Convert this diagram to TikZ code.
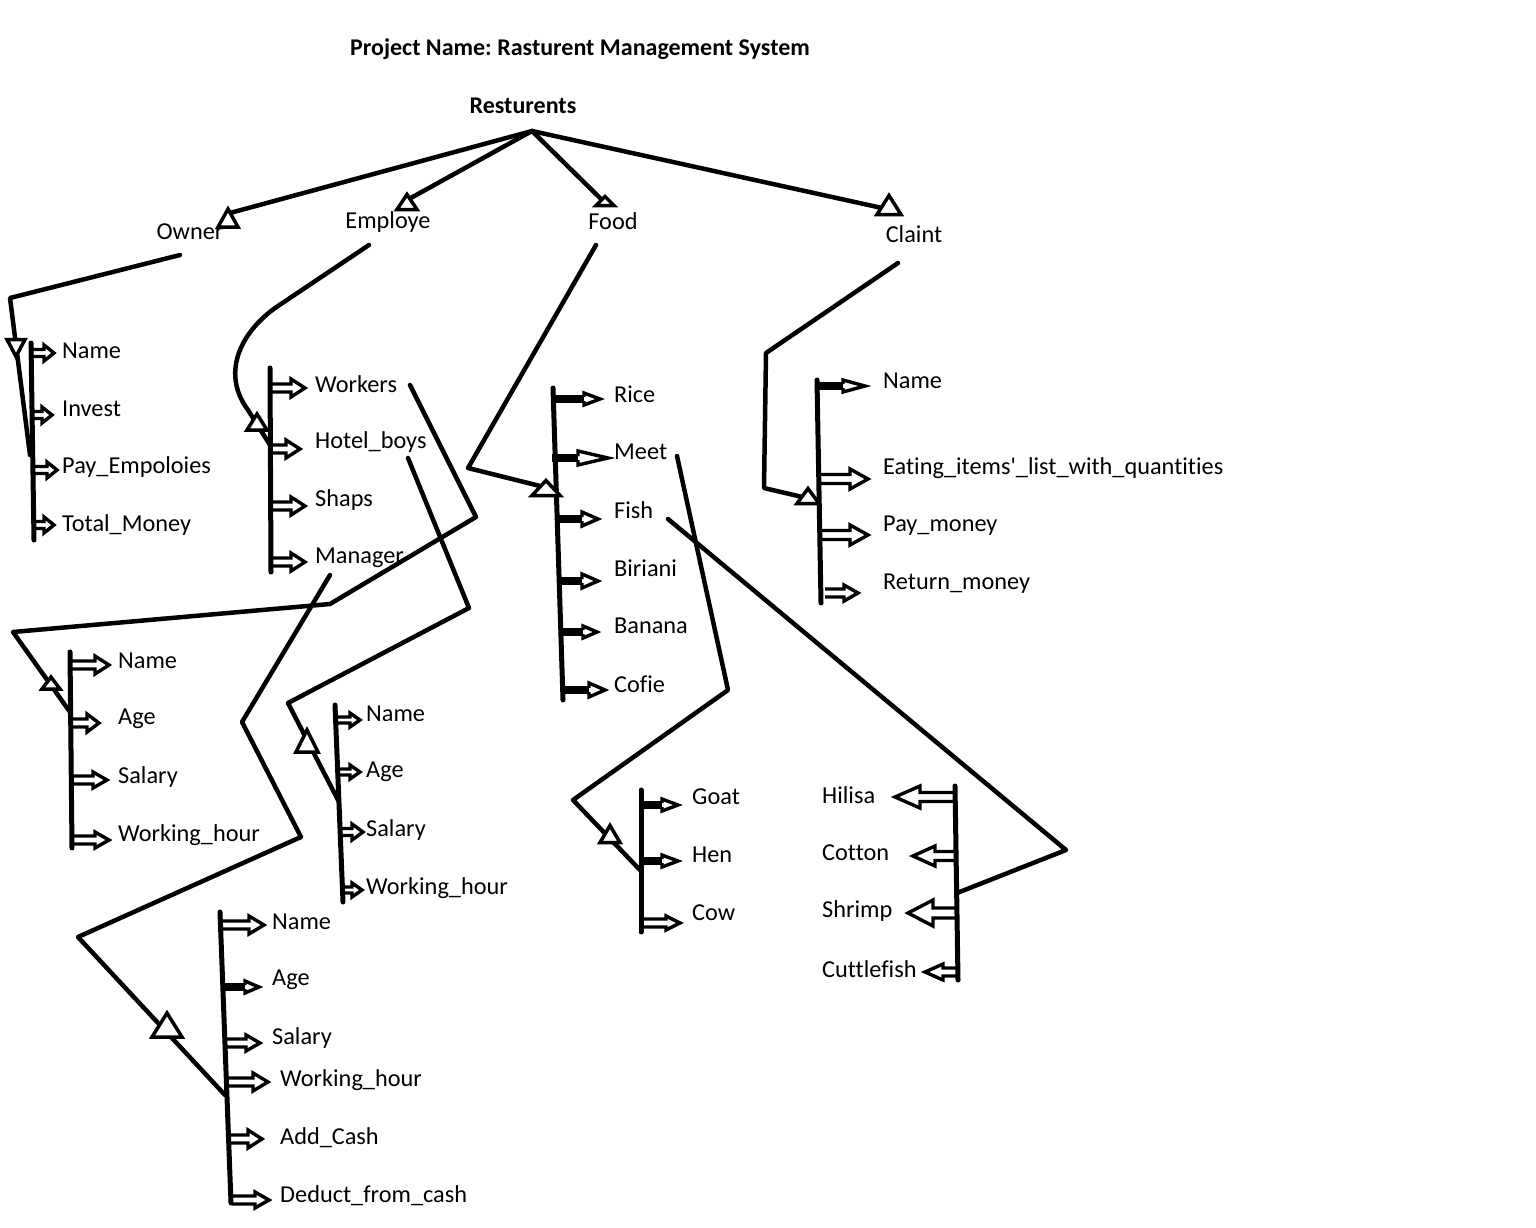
\documentclass[tikz,border=0pt]{standalone}
\usepackage{fontspec}
\setmainfont[Ligatures={NoCommon,NoContextual}]{Carlito}
\frenchspacing
\tikzset{
  lbl/.style={font=\fontsize{24.3}{28}\selectfont, anchor=west, inner sep=0pt},
  ttl/.style={font=\fontsize{24}{28}\selectfont\bfseries, inner sep=0pt},
  br/.style={line width=4.5pt, line join=round, line cap=round},
  barline/.style={line width=5pt, line cap=round},
  ao/.style={line width=3.4pt, line join=miter, fill=white},
  trishape/.style={line width=3.5pt, fill=white, line join=miter},
}
% hollow block arrow to the right: x y len shaft head headlen
\newcommand{\rblk}[6]{\draw[ao, shift={(#1,#2)}] (0,-#4) -- (#3-#6,-#4) -- (#3-#6,-#5) -- (#3,0) -- (#3-#6,#5) -- (#3-#6,#4) -- (0,#4);}
% hollow block arrow to the left
\newcommand{\lblk}[6]{\draw[ao, shift={(#1,#2)}, xscale=-1] (0,-#4) -- (#3-#6,-#4) -- (#3-#6,-#5) -- (#3,0) -- (#3-#6,#5) -- (#3-#6,#4) -- (0,#4);}
% solid shaft arrow to the right: x y len head headlen
\newcommand{\sblk}[5]{\draw[line width=8pt, shift={(#1,#2)}] (0,0) -- (#3-#5+2,0);
  \draw[ao, shift={(#1,#2)}] (#3-#5,-2) -- (#3-#5,-#4) -- (#3,0) -- (#3-#5,#4) -- (#3-#5,2);}
% triangle: cx cy w h (h<0 inverted)
\newcommand{\trig}[4]{\draw[trishape] (#1,#2-#4/2) -- (#1+#3/2,#2+#4/2) -- (#1-#3/2,#2+#4/2) -- cycle;}
\begin{document}
\begin{tikzpicture}[x=1pt,y=-1pt]
\useasboundingbox[fill=white] (0,0) rectangle (1536,1228);

% titles
\node[ttl] (title) at (580,49) {Project Name: Rasturent Management System};
\node[ttl] (root) at (523,106) {Resturents};
\coordinate (r) at (532,131);

% main categories
\node[lbl, anchor=center] (owner) at (190,232) {Owner};
\node[lbl, anchor=center] (employe) at (388,222) {Employe};
\node[lbl, anchor=center] (food) at (613,221) {Food};
\node[lbl, anchor=center] (claint) at (914,234) {Claint};

\draw[br] (r) -- (230,213);
\draw[br] (r) -- (409,199);
\draw[br] (r) -- (601,199);
\draw[br] (r) -- (882,208);
\trig{228}{218}{20}{18}
\trig{407}{202}{20}{15}
\trig{605}{201}{18}{9}
\trig{889}{205}{24}{19}

% ---------- Owner branch ----------
\draw[br] (180,255) -- (10,298) -- (30,455);
\rblk{33}{353}{21}{3.5}{8}{10}
\rblk{33}{415}{19}{3.5}{8}{10}
\rblk{34}{470}{23}{3.5}{8}{10}
\rblk{34}{525}{20}{3.5}{8}{10}
\draw[barline] (31,343) -- (34,540);
\trig{16}{348}{18}{-17}
\node[lbl] (oname) at (62,351) {Name};
\node[lbl] (oinv) at (62,409) {Invest};
\node[lbl] (opay) at (62,467) {Pay\_Empoloies};
\node[lbl] (otot) at (62,525) {Total\_Money};

% ---------- Employe branch ----------
\draw[br] (369,245) -- (275,308) .. controls (238,335) and (222,375) .. (248,410) -- (270,445);
\rblk{272}{388}{33}{4}{9}{14}
\rblk{272}{449}{28}{4}{9}{14}
\rblk{272}{506}{33}{4}{9}{14}
\rblk{272}{562}{33}{4}{9}{14}
\draw[barline] (270,368) -- (271,572);
\trig{257}{422}{20}{16}
\node[lbl] (workers) at (315,384) {Workers};
\node[lbl] (hotel) at (315,442) {Hotel\_boys};
\node[lbl] (shaps) at (315,500) {Shaps};
\node[lbl] (manager) at (315,558) {Manager};

% ---------- Food branch ----------
\draw[br] (596,245) -- (468,468) -- (556,490);
\sblk{555}{399}{45}{6}{16}
\sblk{552}{458}{56}{7}{30}
\sblk{558}{519}{40}{7}{16}
\sblk{558}{581}{40}{7}{16}
\sblk{560}{632}{37}{6}{14}
\sblk{563}{690}{42}{7}{16}
\draw[barline] (553,388) -- (563,700);
\trig{546}{488}{28}{15}
\node[lbl] (rice) at (614,394) {Rice};
\node[lbl] (meet) at (614,452) {Meet};
\node[lbl] (fish) at (614,510) {Fish};
\node[lbl] (biriani) at (614,568) {Biriani};
\node[lbl] (banana) at (614,626) {Banana};
\node[lbl] (cofie) at (614,684) {Cofie};

% ---------- Claint branch ----------
\draw[br] (898,263) -- (766,353) -- (764,488) -- (815,500);
\sblk{817}{386}{48}{6}{22}
\rblk{820}{479}{48}{4.5}{10}{18}
\rblk{820}{535}{48}{4.5}{10}{18}
\rblk{825}{593}{33}{4}{8}{14}
\draw[barline] (817,380) -- (821,603);
\trig{808}{496}{22}{15}
\node[lbl] (cname) at (883,381) {Name};
\node[lbl] (ceat) at (883,468) {Eating\_items\textquotesingle\_list\_with\_quantities};
\node[lbl] (cpay) at (883,526) {Pay\_money};
\node[lbl] (cret) at (883,584) {Return\_money};

% ---------- Workers branch ----------
\draw[br] (410,385) -- (476,517) -- (330,604) -- (13,632) -- (70,712);
\rblk{72}{665}{37}{4}{9}{14}
\rblk{72}{723}{27}{4}{9}{12}
\rblk{72}{780}{35}{4}{8}{14}
\rblk{72}{840}{37}{4}{8}{14}
\draw[barline] (70,652) -- (72,848);
\trig{51}{683}{18}{12}
\node[lbl] (wname) at (118,661) {Name};
\node[lbl] (wage) at (118,719) {Age};
\node[lbl] (wsal) at (118,777) {Salary};
\node[lbl] (wwh) at (118,835) {Working\_hour};

% ---------- Hotel_boys branch ----------
\draw[br] (408,458) -- (469,608) -- (288,703) -- (338,800);
\rblk{338}{720}{22}{3}{7}{10}
\rblk{338}{772}{22}{3}{7}{10}
\rblk{338}{832}{25}{3.5}{8}{11}
\rblk{340}{890}{22}{3}{7}{10}
\draw[barline] (335,705) -- (343,902);
\trig{307}{741}{22}{22}
\node[lbl] (hname) at (366,714) {Name};
\node[lbl] (hage) at (366,772) {Age};
\node[lbl] (hsal) at (366,830) {Salary};
\node[lbl] (hwh) at (366,888) {Working\_hour};

% ---------- Manager branch ----------
\draw[br] (330,575) -- (242,722) -- (301,837) -- (78,937) -- (225,1095);
\rblk{222}{925}{42}{4}{9}{15}
\sblk{223}{987}{36}{6}{14}
\rblk{225}{1043}{35}{4}{8}{14}
\rblk{228}{1082}{40}{4}{9}{15}
\rblk{228}{1139}{34}{4}{9}{14}
\rblk{232}{1200}{37}{4}{8}{14}
\draw[barline] (220,912) -- (231,1203);
\trig{167}{1025}{30}{24}
\node[lbl] (mname) at (272,922) {Name};
\node[lbl] (mage) at (272,980) {Age};
\node[lbl] (msal) at (272,1038) {Salary};
\node[lbl] (mwh) at (280,1080) {Working\_hour};
\node[lbl] (madd) at (280,1138) {Add\_Cash};
\node[lbl] (mded) at (280,1196) {Deduct\_from\_cash};

% ---------- Meet branch ----------
\draw[br] (677,456) -- (728,690) -- (573,800) -- (640,870);
\sblk{641}{805}{37}{6}{16}
\sblk{641}{861}{37}{6}{16}
\rblk{643}{923}{37}{4}{7}{14}
\draw[barline] (641,790) -- (641,932);
\trig{610}{834}{20}{17}
\node[lbl] (goat) at (692,797) {Goat};
\node[lbl] (hen) at (692,855) {Hen};
\node[lbl] (cow) at (692,913) {Cow};

% ---------- Fish branch ----------
\draw[br] (668,519) -- (1066,850) -- (957,893);
\lblk{955}{797}{60}{4.5}{11}{25}
\lblk{955}{856}{42}{4.5}{10}{22}
\lblk{955}{913}{47}{5}{13}{25}
\lblk{958}{972}{33}{4}{8}{18}
\draw[barline] (955,786) -- (958,980);
\node[lbl] (hilisa) at (822,795) {Hilisa};
\node[lbl] (cotton) at (822,853) {Cotton};
\node[lbl] (shrimp) at (822,911) {Shrimp};
\node[lbl] (cuttle) at (822,969) {Cuttlefish};
\end{tikzpicture}
\end{document}
